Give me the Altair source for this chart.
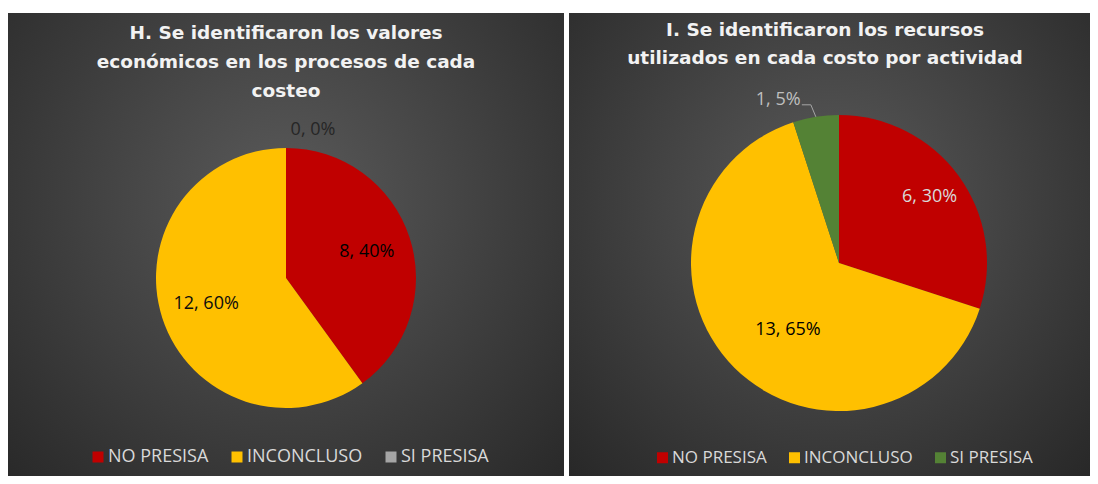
import altair as alt
import pandas as pd

# ---------------- data ----------------
CATEGORIES = ["NO PRESISA", "INCONCLUSO", "SI PRESISA"]
H_VALUES = [8, 12, 0]
I_VALUES = [6, 13, 1]
H_COLORS = ["#C00000", "#FFC000", "#A5A5A5"]
I_COLORS = ["#C00000", "#FFC000", "#548235"]
H_TITLE = ["H. Se identificaron los valores",
           "económicos en los procesos de cada",
           "costeo"]
I_TITLE = ["I. Se identificaron los recursos",
           "utilizados en cada costo por actividad"]

FONT = "Open Sans"
TITLE_FONT = "DejaVu Sans"
PANEL_H = 463


def make_df(values):
    return pd.DataFrame({"cat": CATEGORIES, "value": values,
                         "order": list(range(len(values)))})


def base(values):
    return (
        alt.Chart(make_df(values))
        .transform_joinaggregate(total="sum(value)")
        .transform_window(cum="sum(value)", sort=[alt.SortField("order")], frame=[None, 0])
        .transform_calculate(t0="2*PI*(datum.cum - datum.value)/datum.total")
        .transform_calculate(t1="2*PI*datum.cum/datum.total")
        .transform_calculate(mid="(datum.t0 + datum.t1)/2")
        .transform_calculate(label="datum.value + ', ' + round(100*datum.value/datum.total) + '%'")
    )


def background(w, h, gx, gy):
    grad = {
        "gradient": "radial",
        "x1": gx, "y1": gy, "r1": 0,
        "x2": gx, "y2": gy, "r2": 0.75,
        "stops": [{"offset": 0, "color": "#5a5a5a"},
                  {"offset": 1, "color": "#262626"}],
    }
    return alt.Chart(alt.Data(values=[{}])).mark_rect(fill=grad, strokeWidth=0).encode(
        x=alt.value(0), x2=alt.value(w), y=alt.value(0), y2=alt.value(h)
    )


def title_layer(lines, tx, ty, lh):
    return alt.Chart(alt.Data(values=[{}])).mark_text(
        text=lines, font=TITLE_FONT, fontSize=18.5, fontWeight="bold", color="#f2f2f2",
        align="center", baseline="alphabetic", lineHeight=lh
    ).encode(x=alt.value(tx), y=alt.value(ty))


def legend(lx, ly, fs):
    return alt.Legend(
        orient="none", legendX=lx, legendY=ly, direction="horizontal", title=None,
        symbolType="square", symbolSize=121, symbolStrokeWidth=0,
        labelFont=FONT, labelFontSize=fs, labelColor="#d9d9d9", labelOffset=1,
        columnPadding=19, padding=0, labelLimit=300,
    )


def pie(values, colors, cx, cy, R, lx, ly, fs):
    b = base(values)
    return b.mark_arc(outerRadius=R, strokeWidth=0).encode(
        theta=alt.Theta("t0:Q", scale=None),
        theta2="t1:Q",
        color=alt.Color("cat:N", scale=alt.Scale(domain=CATEGORIES, range=colors),
                        legend=legend(lx, ly, fs)),
        x=alt.value(cx), y=alt.value(cy),
    )


def label(values, cat, cx, cy, radius, color, dx=0, dy=0):
    b = base(values)
    return b.transform_filter(alt.datum.cat == cat).mark_text(
        radius=radius, font=FONT, fontSize=18, color=color,
        align="center", baseline="middle", dx=dx, dy=dy,
    ).encode(
        theta=alt.Theta("mid:Q", scale=None), text="label:N",
        x=alt.value(cx), y=alt.value(cy),
    )


def leader(values, cat, cx, cy, R):
    b = (
        base(values)
        .transform_filter(alt.datum.cat == cat)
        .transform_calculate(ex=f"{cx} + {R}*sin(datum.mid)")
        .transform_calculate(ey=f"{cy} - {R}*cos(datum.mid)")
        .transform_calculate(ex2="datum.ex - 5", ey2="datum.ey - 12", ex3="datum.ex - 14")
    )
    s1 = b.mark_rule(color="#a6a6a6", strokeWidth=1).encode(
        x=alt.X("ex:Q", scale=None, axis=None), y=alt.Y("ey:Q", scale=None, axis=None),
        x2="ex2:Q", y2="ey2:Q",
    )
    s2 = b.mark_rule(color="#a6a6a6", strokeWidth=1).encode(
        x=alt.X("ex2:Q", scale=None, axis=None), y=alt.Y("ey2:Q", scale=None, axis=None),
        x2="ex3:Q", y2="ey2:Q",
    )
    return s1 + s2


# ---------------- left panel ----------------
LW = 556
LCX, LCY, LR = 278, 265, 130
left = alt.layer(
    background(LW, PANEL_H, 0.5, 0.42),
    title_layer(H_TITLE, 278, 26, 29),
    pie(H_VALUES, H_COLORS, LCX, LCY, LR, 81, 435, 18),
    label(H_VALUES, "NO PRESISA", LCX, LCY, 85, "#000000"),
    label(H_VALUES, "INCONCLUSO", LCX, LCY, 84, "#0d0d0d"),
    label(H_VALUES, "SI PRESISA", LCX, LCY, 148, "#262626", dx=27),
).properties(width=LW, height=PANEL_H)

# ---------------- right panel ----------------
RW = 521
RCX, RCY, RR = 270, 250, 148
right = alt.layer(
    background(RW, PANEL_H, 0.5, 0.42),
    title_layer(I_TITLE, 256, 23, 28),
    pie(I_VALUES, I_COLORS, RCX, RCY, RR, 85, 436, 17),
    label(I_VALUES, "NO PRESISA", RCX, RCY, 112, "#d9d9d9"),
    label(I_VALUES, "INCONCLUSO", RCX, RCY, 85, "#000000", dx=9, dy=7),
    label(I_VALUES, "SI PRESISA", RCX, RCY, 165, "#bfbfbf", dx=-35),
    leader(I_VALUES, "SI PRESISA", RCX, RCY, RR),
).properties(width=RW, height=PANEL_H)

chart = (
    alt.hconcat(left, right, spacing=5)
    .resolve_scale(color="independent")
    .resolve_legend(color="independent")
    .properties(padding={"left": 0, "top": 5, "right": 0, "bottom": 0}, background="white")
    .configure_view(strokeWidth=0)
)

chart.save("out.html", embed_options={"renderer": "svg", "actions": False})
